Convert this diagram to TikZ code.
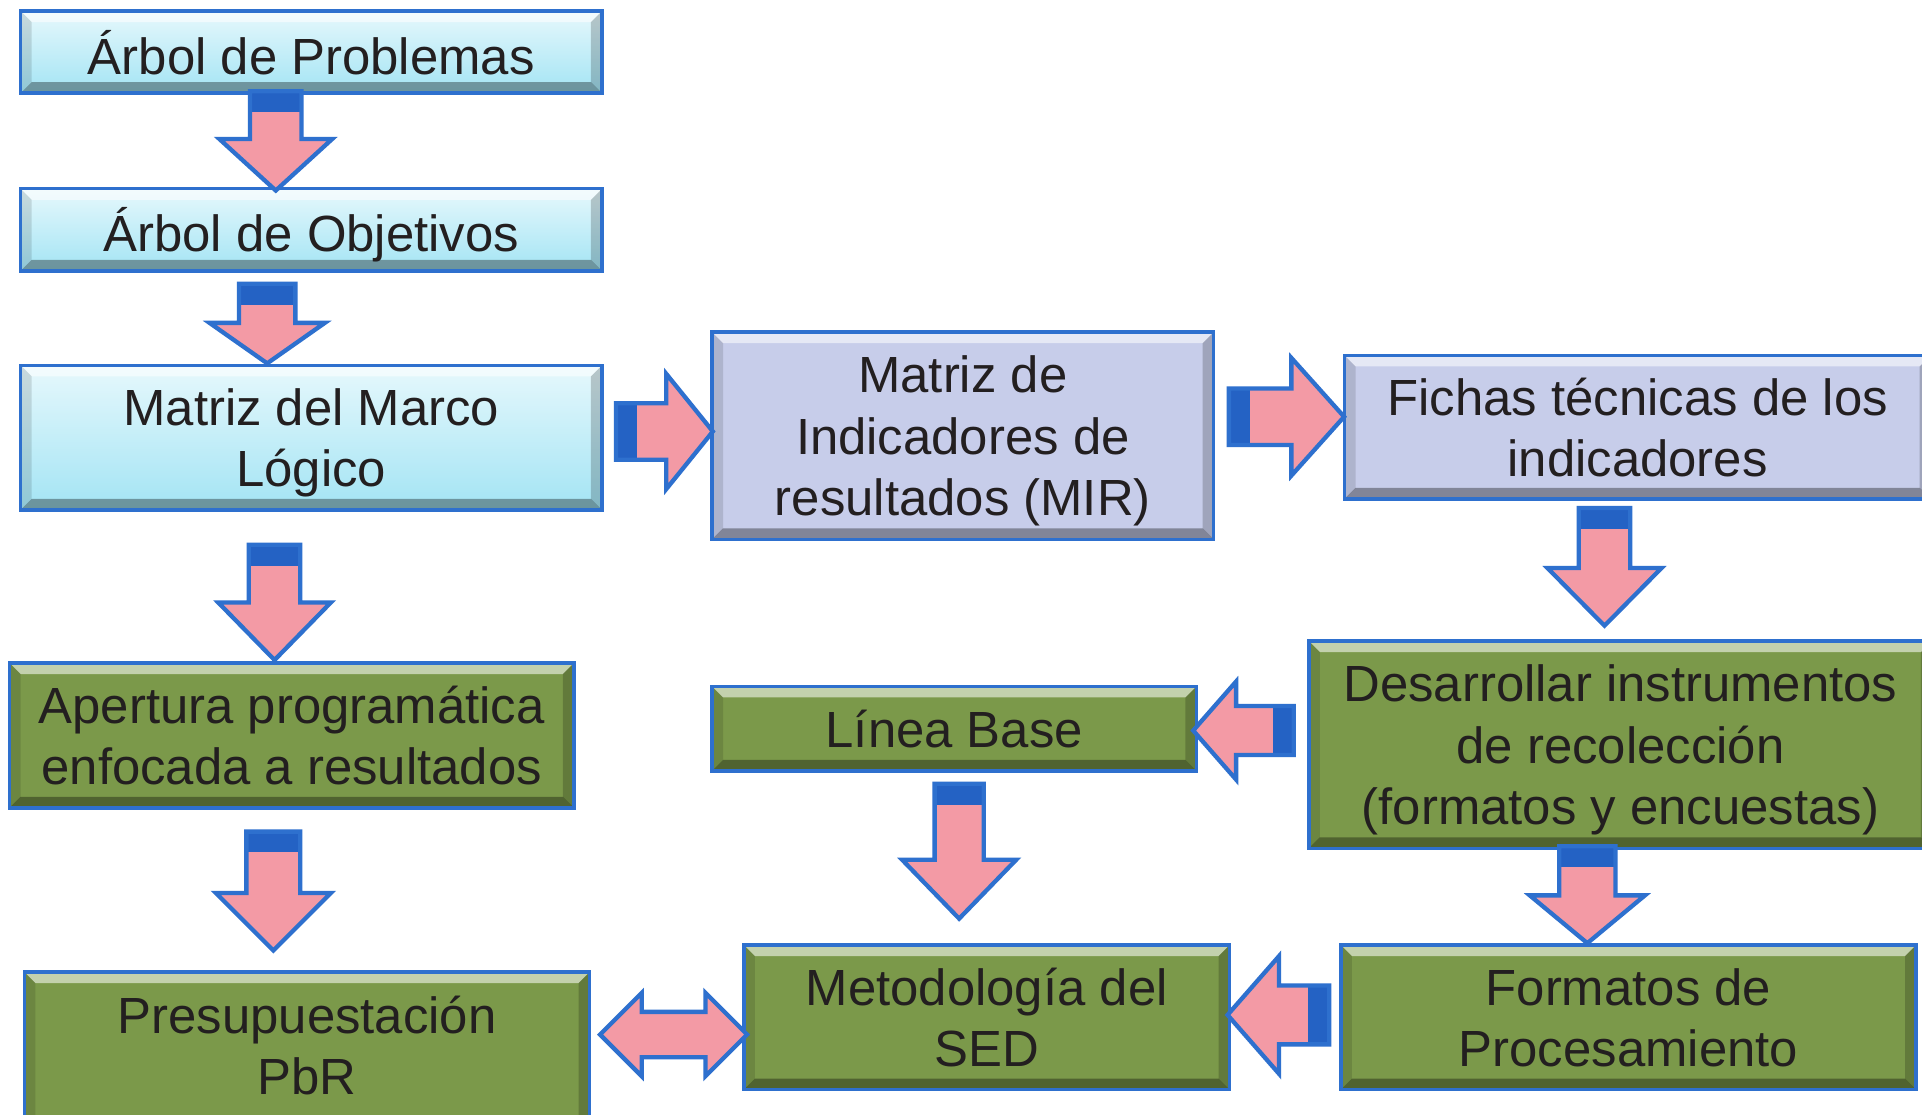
\documentclass[tikz,border=0pt]{standalone}
\usepackage{fontspec}
\setmainfont{Liberation Sans}
\usepackage{tikz}
\usetikzlibrary{positioning}

\definecolor{azul}{HTML}{2E70CE}
\definecolor{azulosc}{HTML}{2462C4}
\definecolor{rosa}{HTML}{F39AA5}
\definecolor{texto}{HTML}{231F20}
\definecolor{celeste}{HTML}{A3E4F4}
\definecolor{celesteclaro}{HTML}{E6F8FC}
\definecolor{lila}{HTML}{C7CDEA}
\definecolor{verde}{HTML}{7B994A}

\tikzset{
  caja/.style={draw=azul, line width=.8pt, align=center, inner sep=0pt, text=texto, text depth=0pt,
    font=\fontsize{11.8}{14.2}\selectfont,
    path picture={
      \fill[white,opacity=.55] (path picture bounding box.north west) -- (path picture bounding box.north east)
        -- ([shift={(-.09cm,-.09cm)}]path picture bounding box.north east)
        -- ([shift={(.09cm,-.09cm)}]path picture bounding box.north west) -- cycle;
      \fill[black,opacity=.35] (path picture bounding box.south west) -- (path picture bounding box.south east)
        -- ([shift={(-.09cm,.09cm)}]path picture bounding box.south east)
        -- ([shift={(.09cm,.09cm)}]path picture bounding box.south west) -- cycle;
      \fill[black,opacity=.12] (path picture bounding box.north west) -- ([shift={(.09cm,-.09cm)}]path picture bounding box.north west)
        -- ([shift={(.09cm,.09cm)}]path picture bounding box.south west) -- (path picture bounding box.south west) -- cycle;
      \fill[black,opacity=.2] (path picture bounding box.north east) -- ([shift={(-.09cm,-.09cm)}]path picture bounding box.north east)
        -- ([shift={(-.09cm,.09cm)}]path picture bounding box.south east) -- (path picture bounding box.south east) -- cycle;
    }},
  cajaceleste/.style={caja, top color=celesteclaro, bottom color=celeste},
  cajalila/.style={caja, fill=lila},
  cajaverde/.style={caja, fill=verde},
  borde/.style={draw=azul, line width=1pt, line join=miter},
  pics/flecha/.style n args={4}{code={
    \fill[rosa] (0,-#2) -- ({#1-#4},-#2) -- ({#1-#4},-#3) -- (#1,0) -- ({#1-#4},#3) -- ({#1-#4},#2) -- (0,#2) -- cycle;
    \fill[azulosc] (0,-#2) rectangle (17,#2);
    \draw[borde] (0,-#2) -- ({#1-#4},-#2) -- ({#1-#4},-#3) -- (#1,0) -- ({#1-#4},#3) -- ({#1-#4},#2) -- (0,#2) -- cycle;
  }},
  pics/flechadoble/.style n args={4}{code={
    \filldraw[fill=rosa, borde] (0,0) -- (#4,-#3) -- (#4,-#2) -- ({#1-#4},-#2) -- ({#1-#4},-#3) -- (#1,0)
      -- ({#1-#4},#3) -- ({#1-#4},#2) -- (#4,#2) -- (#4,#3) -- cycle;
  }}
}

\begin{document}
\begin{tikzpicture}[x=0.01cm, y=-0.01cm]
  \useasboundingbox (0,0) rectangle (1568,909);
  \clip (0,0) rectangle (1568,909);
  \fill[white] (0,0) rectangle (1568,909);

  \node[cajaceleste, minimum width=4.74cm, minimum height=.67cm] (arbp) at (254,42.5) {Árbol de Problemas};
  \node[cajaceleste, minimum width=4.74cm, minimum height=.67cm] (arbo) at (254,187.5) {Árbol de Objetivos};
  \node[cajaceleste, minimum width=4.74cm, minimum height=1.18cm] (mml) at (254,357) {Matriz del Marco\\Lógico};
  \node[cajalila, minimum width=4.09cm, minimum height=1.69cm] (mir) at (785.5,355.5) {Matriz de\\Indicadores de\\resultados (MIR)};
  \node[cajalila, minimum width=4.78cm, minimum height=1.17cm] (fichas) at (1336,348.5) {Fichas técnicas de los\\indicadores};
  \node[cajaverde, minimum width=4.60cm, minimum height=1.18cm] (apert) at (238,600) {Apertura programática\\enfocada a resultados};
  \node[cajaverde, minimum width=3.95cm, minimum height=.69cm] (linea) at (778.5,594.5) {Línea Base};
  \node[cajaverde, minimum width=5.08cm, minimum height=1.69cm] (desarr) at (1322,607.5) {Desarrollar instrumentos\\de recolección\\(formatos y encuestas)};
  \node[cajaverde, minimum width=4.61cm, minimum height=1.37cm, text depth=.18cm] (presup) at (250.5,861.5) {Presupuestación\\PbR};
  \node[cajaverde, minimum width=3.96cm, minimum height=1.18cm] (metod) at (805,830) {Metodología del\\SED};
  \node[cajaverde, minimum width=4.69cm, minimum height=1.18cm] (format) at (1328.5,830) {Formatos de\\Procesamiento};

  \pic[rotate=-90] at ([xshift=-.29cm,yshift=.03cm]arbp.south) {flecha={81}{21}{46}{42}};
  \pic[rotate=-90] at ([xshift=-.36cm,yshift=-.09cm]arbo.south) {flecha={65}{23}{47}{33}};
  \pic[rotate=-90] at ([xshift=-.30cm,yshift=-.27cm]mml.south) {flecha={94}{21}{46}{47}};
  \pic at ([xshift=.10cm,yshift=.05cm]mml.east) {flecha={79}{23}{47}{38}};
  \pic at ([xshift=.11cm,yshift=.155cm]mir.east) {flecha={94}{23}{48}{43}};
  \pic[rotate=-90] at ([xshift=-.27cm,yshift=-.06cm]fichas.south) {flecha={96}{21}{46.5}{47}};
  \pic[rotate=180] at ([xshift=-.11cm,yshift=.115cm]desarr.west) {flecha={82}{20}{40}{35}};
  \pic[rotate=-90] at ([xshift=.04cm,yshift=-.09cm]linea.south) {flecha={110}{20}{46.5}{48}};
  \pic[rotate=-90] at ([xshift=-.15cm,yshift=-.18cm]apert.south) {flecha={97}{22}{47}{47}};
  \pic[rotate=-90] at ([xshift=-.27cm,yshift=.03cm]desarr.south) {flecha={79}{23}{47}{39}};
  \pic[rotate=180] at ([xshift=-.08cm,yshift=.02cm]format.west) {flecha={83}{24}{48}{42}};
  \pic at ([xshift=.07cm,yshift=.175cm]presup.east) {flechadoble={120}{18.5}{34}{34}};
\end{tikzpicture}
\end{document}
